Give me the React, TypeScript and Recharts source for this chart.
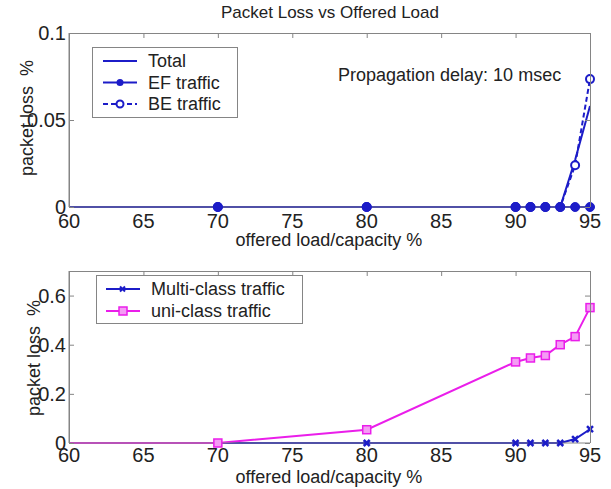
import React from 'react';
import { LineChart, Line, XAxis, YAxis } from 'recharts';

// offered load/capacity %
const loads = [60, 70, 80, 90, 91, 92, 93, 94, 95];

// top panel: packet loss %
const totalLoss = [0, 0, 0, 0, 0, 0, 0, 0.027, 0.058];
const efLoss = [0, 0, 0, 0, 0, 0, 0, 0, 0];
const beLoss = [0, 0, 0, 0, 0, 0, 0, 0.024, 0.0735];

// bottom panel: packet loss %
const multiClassLoss = [0, 0, 0, 0, 0, 0, 0, 0.016, 0.056];
const uniClassLoss = [0, 0, 0.054, 0.33, 0.346, 0.356, 0.4, 0.433, 0.551];

const xTicks = [60, 65, 70, 75, 80, 85, 90, 95];
const topYTicks = [0, 0.05, 0.1];
const bottomYTicks = [0, 0.2, 0.4, 0.6];

const topData = loads.map((load, i) => ({
  load,
  total: totalLoss[i],
  ef: efLoss[i],
  be: beLoss[i],
}));

const bottomData = loads.map((load, i) => ({
  load,
  multi: multiClassLoss[i],
  uni: uniClassLoss[i],
}));

const BLUE = '#1c1cc8';
const MAGENTA = '#ea1eea';
const AXIS = '#858585';
const FONT = '"Liberation Sans", Arial, sans-serif';
const TEXT = '#222';

// layout shared by both panels
const W = 611;
const H = 489;
const LEFT = 9;
const Y_AXIS_W = 60;
const RIGHT = 21;
const PLOT_L = LEFT + Y_AXIS_W;
const PLOT_R = W - RIGHT;
const X_MIN = 60;
const X_MAX = 95;

const panels = [
  { top: 0, height: 250, marginTop: 33, xAxisH: 43, yMax: 0.1, yTicks: topYTicks, tickGap: 7 },
  { top: 250, height: 239, marginTop: 21, xAxisH: 46, yMax: 0.7, yTicks: bottomYTicks, tickGap: 5 },
];

// markers are not drawn at the 60% point (it sits on the y axis)
const hidden = (p: any) => p.cx == null || p.payload?.load === 60;

const filledDot = (p: any) =>
  hidden(p) ? <g key={p.index} /> : <circle key={p.index} cx={p.cx} cy={p.cy} r={4.5} fill={BLUE} stroke={BLUE} />;

const openDot = (p: any) =>
  hidden(p) ? <g key={p.index} /> : (
    <circle key={p.index} cx={p.cx} cy={p.cy} r={4} fill="#fff" stroke={BLUE} strokeWidth={2} />
  );

const crossDot = (p: any) =>
  hidden(p) ? <g key={p.index} /> : (
    <g key={p.index} stroke={BLUE} strokeWidth={2.5}>
      <line x1={p.cx - 3} y1={p.cy - 3} x2={p.cx + 3} y2={p.cy + 3} />
      <line x1={p.cx - 3} y1={p.cy + 3} x2={p.cx + 3} y2={p.cy - 3} />
    </g>
  );

const squareDot = (p: any) =>
  hidden(p) ? <g key={p.index} /> : (
    <rect key={p.index} x={p.cx - 4} y={p.cy - 4} width={8} height={8} fill="#f49cf4" stroke={MAGENTA} strokeWidth={1.5} />
  );

const tickStyle = { fill: TEXT, fontSize: 20, fontFamily: FONT };

const axes = (p: (typeof panels)[number]) => [
  <XAxis
    key="x"
    dataKey="load"
    type="number"
    domain={[X_MIN, X_MAX]}
    ticks={xTicks}
    height={p.xAxisH}
    tick={tickStyle}
    tickLine={false}
    tickSize={0}
    tickMargin={p.tickGap}
    stroke={AXIS}
  />,
  <YAxis
    key="y"
    type="number"
    domain={[0, p.yMax]}
    ticks={p.yTicks}
    width={Y_AXIS_W}
    tick={tickStyle}
    tickLine={false}
    tickSize={0}
    tickMargin={3}
    stroke={AXIS}
  />,
];

const topLegend = [
  { name: 'Total', dash: undefined, dot: null },
  { name: 'EF traffic', dash: undefined, dot: 'filled' },
  { name: 'BE traffic', dash: '5 3', dot: 'open' },
];

const bottomLegend = [
  { name: 'Multi-class traffic', color: BLUE, dot: 'cross' },
  { name: 'uni-class traffic', color: MAGENTA, dot: 'square' },
];

// box with inward ticks on top and right (left/bottom lines come from the axes)
const boxLines = () =>
  panels.map((p, i) => {
    const top = p.top + p.marginTop;
    const bottom = p.top + p.height - p.xAxisH;
    const sx = (v: number) => PLOT_L + ((v - X_MIN) / (X_MAX - X_MIN)) * (PLOT_R - PLOT_L);
    const sy = (v: number) => bottom - (v / p.yMax) * (bottom - top);
    return (
      <g key={`box${i}`} stroke={AXIS} strokeWidth={1} fill="none">
        <line x1={PLOT_L} y1={top + 0.5} x2={PLOT_R + 0.5} y2={top + 0.5} />
        <line x1={PLOT_R + 0.5} y1={top} x2={PLOT_R + 0.5} y2={bottom} />
        <line x1={PLOT_L + 0.5} y1={top} x2={PLOT_L + 0.5} y2={bottom} />
        {xTicks.map((t) => (
          <line key={`t${t}`} x1={sx(t) + 0.5} y1={top} x2={sx(t) + 0.5} y2={top + 5} />
        ))}
        {p.yTicks.map((t) => (
          <g key={`y${t}`}>
            <line x1={PLOT_R} y1={sy(t) + 0.5} x2={PLOT_R - 5} y2={sy(t) + 0.5} />
            <line x1={PLOT_L} y1={sy(t) + 0.5} x2={PLOT_L + 5} y2={sy(t) + 0.5} />
          </g>
        ))}
      </g>
    );
  });

const Overlay = () => (
  <svg
    width={W}
    height={H}
    style={{ position: 'absolute', left: 0, top: 0, pointerEvents: 'none' }}
    fontFamily={FONT}
  >
    {boxLines()}
    <text x={330} y={12} fontSize={17} fill={TEXT} textAnchor="middle" dominantBaseline="central">
      Packet Loss vs Offered Load
    </text>
    <text x={338} y={75} fontSize={18} fill={TEXT} dominantBaseline="central">
      Propagation delay: 10 msec
    </text>
    <text x={329} y={240} fontSize={18} fill={TEXT} textAnchor="middle" dominantBaseline="central">
      offered load/capacity %
    </text>
    <text x={329} y={477} fontSize={18} fill={TEXT} textAnchor="middle" dominantBaseline="central">
      offered load/capacity %
    </text>
    <text
      x={0}
      y={0}
      fontSize={18}
      fill={TEXT}
      textAnchor="middle"
      dominantBaseline="central"
      style={{ whiteSpace: 'pre' }}
      transform="translate(27,118) rotate(-90)"
    >
      {'packet loss  %'}
    </text>
    <text
      x={0}
      y={0}
      fontSize={18}
      fill={TEXT}
      textAnchor="middle"
      dominantBaseline="central"
      style={{ whiteSpace: 'pre' }}
      transform="translate(34,358) rotate(-90)"
    >
      {'packet loss  %'}
    </text>

    {/* top legend */}
    <rect x={92.5} y={47.5} width={145} height={70} fill="#fff" stroke={AXIS} />
    {topLegend.map((item, i) => {
      const y = 61 + i * 21.5;
      return (
        <g key={item.name}>
          <line x1={103} y1={y} x2={137} y2={y} stroke={BLUE} strokeWidth={2} strokeDasharray={item.dash} />
          {item.dot === 'filled' && <circle cx={120} cy={y} r={3.5} fill={BLUE} />}
          {item.dot === 'open' && <circle cx={120} cy={y} r={3.5} fill="#fff" stroke={BLUE} strokeWidth={2} />}
          <text x={148} y={y} fontSize={18} fill={TEXT} dominantBaseline="central">
            {item.name}
          </text>
        </g>
      );
    })}

    {/* bottom legend */}
    <rect x={96.5} y={275.5} width={206} height={48} fill="#fff" stroke={AXIS} />
    {bottomLegend.map((item, i) => {
      const y = 289 + i * 22;
      return (
        <g key={item.name}>
          <line x1={106} y1={y} x2={140} y2={y} stroke={item.color} strokeWidth={2} />
          {item.dot === 'cross' && (
            <g stroke={BLUE} strokeWidth={2}>
              <line x1={120} y1={y - 2.5} x2={125} y2={y + 2.5} />
              <line x1={120} y1={y + 2.5} x2={125} y2={y - 2.5} />
            </g>
          )}
          {item.dot === 'square' && (
            <rect x={119} y={y - 4} width={8} height={8} fill="#f49cf4" stroke={MAGENTA} strokeWidth={1.5} />
          )}
          <text x={151} y={y} fontSize={18} fill={TEXT} dominantBaseline="central">
            {item.name}
          </text>
        </g>
      );
    })}
  </svg>
);

export default function App() {
  const [topPanel, bottomPanel] = panels;
  return (
    <div style={{ position: 'absolute', left: 0, top: 0, width: W, height: H, background: '#fff' }}>
      <div style={{ position: 'absolute', left: 0, top: topPanel.top }}>
        <LineChart
          width={W}
          height={topPanel.height}
          data={topData}
          margin={{ top: topPanel.marginTop, right: RIGHT, left: LEFT, bottom: 0 }}
        >
          {axes(topPanel)}
          <Line dataKey="total" type="linear" stroke={BLUE} strokeWidth={2} dot={false} isAnimationActive={false} />
          <Line
            dataKey="be"
            type="linear"
            stroke={BLUE}
            strokeWidth={2}
            strokeDasharray="5 3"
            dot={openDot}
            isAnimationActive={false}
          />
          <Line dataKey="ef" type="linear" stroke={BLUE} strokeWidth={2} dot={filledDot} isAnimationActive={false} />
        </LineChart>
      </div>
      <div style={{ position: 'absolute', left: 0, top: bottomPanel.top }}>
        <LineChart
          width={W}
          height={bottomPanel.height}
          data={bottomData}
          margin={{ top: bottomPanel.marginTop, right: RIGHT, left: LEFT, bottom: 0 }}
        >
          {axes(bottomPanel)}
          <Line dataKey="multi" type="linear" stroke={BLUE} strokeWidth={2} dot={crossDot} isAnimationActive={false} />
          <Line dataKey="uni" type="linear" stroke={MAGENTA} strokeWidth={2} dot={squareDot} isAnimationActive={false} />
        </LineChart>
      </div>
      <Overlay />
    </div>
  );
}
